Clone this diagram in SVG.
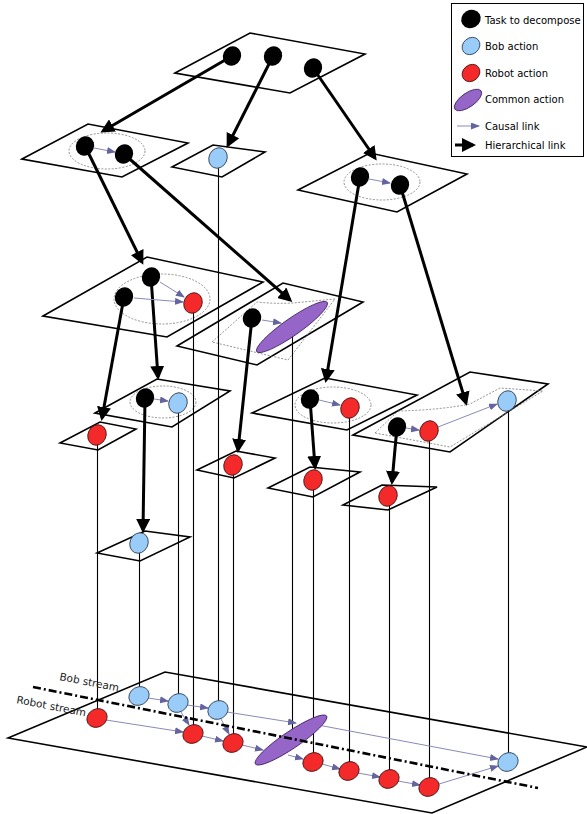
<svg xmlns="http://www.w3.org/2000/svg" width="587" height="814" viewBox="0 0 587 814">
<defs>
<marker id="ha" markerUnits="userSpaceOnUse" markerWidth="16" markerHeight="14" refX="11" refY="7" orient="auto"><path d="M0,0 L14,7 L0,14 z" fill="#000"/></marker>
<marker id="ca" markerUnits="userSpaceOnUse" markerWidth="11" markerHeight="8" refX="8" refY="3.5" orient="auto"><path d="M0,0 L9,3.5 L0,7 z" fill="#6464a0"/></marker>
<style>
.pl{fill:none;stroke:#000;stroke-width:1.6;stroke-linejoin:miter}
.dt{fill:none;stroke:#777;stroke-width:0.8;stroke-dasharray:2 1.5}
.h{stroke:#000;stroke-width:3;fill:none;marker-end:url(#ha)}
.c{stroke:#8a8ab8;stroke-width:1;fill:none;marker-end:url(#ca)}
.v{stroke:#000;stroke-width:1.1;fill:none}
.tk{fill:#000}
.bob{fill:#99ccf8;stroke:#2a3a50;stroke-width:0.8}
.rob{fill:#f42a2a;stroke:#401010;stroke-width:0.8}
.com{fill:#9565c8;stroke:#402060;stroke-width:0.8}
.lg{font-family:"DejaVu Sans",sans-serif;font-size:10px;fill:#000}
.st{font-family:"DejaVu Sans",sans-serif;font-size:10.5px;fill:#222}
</style>
</defs>
<rect width="587" height="814" fill="#fff"/>

<g id="planes">
<polygon class="pl" points="175,73 250,33 365,54 290,93"/>
<polygon class="pl" points="22,159 88,124 188,143 122,177"/>
<polygon class="pl" points="172,167 213,145 265,152 222,177"/>
<polygon class="pl" points="298,190 370,153 467,174 397,212"/>
<polygon class="pl" points="43,316 147,257 263,282 167,337"/>
<polygon class="pl" points="177,346 283,283 363,302 257,365"/>
<polygon class="pl" points="252,413 325,378 417,395 347,430"/>
<polygon class="pl" points="353,435 470,372 548,384 450,452"/>
<polygon class="pl" points="95,413 157,379 230,391 172,427"/>
<polygon class="pl" points="60,443 100,422 136,429 98,450"/>
<polygon class="pl" points="197,470 236,451 275,458 234,478"/>
<polygon class="pl" points="97,553 145,531 190,537 140,561"/>
<polygon class="pl" points="268,488 310,467 360,472 313,497"/>
<polygon class="pl" points="343,505 382,485 437,487 388,510"/>
<polygon class="pl" points="8,738 165,672 587,747 432,813"/>
<ellipse class="dt" cx="107" cy="151" rx="38" ry="18"/>
<ellipse class="dt" cx="382" cy="182" rx="38" ry="18"/>
<ellipse class="dt" cx="162" cy="299" rx="48" ry="25"/>
<ellipse class="dt" cx="163" cy="402" rx="33" ry="16"/>
<ellipse class="dt" cx="333" cy="405" rx="38" ry="18"/>
<path class="dt" d="M212,342 L257,302 Q275,304 293,303 L335,299 L288,360 Z"/>
<path class="dt" d="M375,433 L398,411 Q440,410 470,404 L500,388 L543,391 L450,447 Z"/>
</g>

<g id="connectors">
<line class="v" x1="97.5" y1="435" x2="97.5" y2="718"/>
<line class="v" x1="139.5" y1="543" x2="139.5" y2="696"/>
<line class="v" x1="178.5" y1="403" x2="178.5" y2="703"/>
<line class="v" x1="193.5" y1="303" x2="193.5" y2="734"/>
<line class="v" x1="218.5" y1="158" x2="218.5" y2="710"/>
<line class="v" x1="233.5" y1="465" x2="233.5" y2="743"/>
<line class="v" x1="292.5" y1="327" x2="292.5" y2="740"/>
<line class="v" x1="313.5" y1="480" x2="313.5" y2="762"/>
<line class="v" x1="349.5" y1="408" x2="349.5" y2="771"/>
<line class="v" x1="389.5" y1="496" x2="389.5" y2="779"/>
<line class="v" x1="429.5" y1="431" x2="429.5" y2="787"/>
<line class="v" x1="508.5" y1="401" x2="508.5" y2="762"/>

<line class="h" x1="232" y1="56" x2="103" y2="131"/>
<line class="h" x1="273" y1="56" x2="228" y2="145"/>
<line class="h" x1="313" y1="68" x2="375" y2="158"/>
<line class="h" x1="85" y1="146" x2="142" y2="262"/>
<line class="h" x1="124" y1="154" x2="290" y2="300"/>
<line class="h" x1="360" y1="177" x2="326" y2="380"/>
<line class="h" x1="400" y1="185" x2="466" y2="403"/>
<line class="h" x1="151" y1="277" x2="158" y2="377"/>
<line class="h" x1="124" y1="297" x2="102" y2="418"/>
<line class="h" x1="252" y1="318" x2="238" y2="450"/>
<line class="h" x1="145" y1="398" x2="143" y2="530"/>
<line class="h" x1="310" y1="399" x2="315" y2="467"/>
<line class="h" x1="397" y1="427" x2="392" y2="482"/>

<line class="c" x1="94" y1="148" x2="115" y2="152"/>
<line class="c" x1="369" y1="179" x2="390" y2="183"/>
<line class="c" x1="160" y1="282" x2="184" y2="297"/>
<line class="c" x1="134" y1="298" x2="183" y2="302"/>
<line class="c" x1="262" y1="320" x2="281" y2="323"/>
<line class="c" x1="154" y1="399" x2="168" y2="401"/>
<line class="c" x1="319" y1="400" x2="340" y2="405"/>
<line class="c" x1="406" y1="428" x2="419" y2="430"/>
<line class="c" x1="438" y1="427" x2="497" y2="404"/>

<line class="c" x1="148" y1="698" x2="168" y2="701"/>
<line class="c" x1="187" y1="705" x2="208" y2="708"/>
<line class="c" x1="181" y1="712" x2="189" y2="725"/>
<line class="c" x1="221" y1="719" x2="229" y2="734"/>
<line class="c" x1="106" y1="720" x2="183" y2="732"/>
<line class="c" x1="202" y1="736" x2="223" y2="741"/>
<line class="c" x1="242" y1="745" x2="263" y2="750"/>
<line class="c" x1="227" y1="712" x2="296" y2="723"/>
<line class="c" x1="288" y1="755" x2="303" y2="759"/>
<line class="c" x1="318" y1="725" x2="498" y2="759"/>
<line class="c" x1="322" y1="764" x2="340" y2="769"/>
<line class="c" x1="358" y1="773" x2="380" y2="777"/>
<line class="c" x1="398" y1="781" x2="420" y2="785"/>
<line class="c" x1="439" y1="784" x2="498" y2="766"/>
</g>

<g id="n-top">
<ellipse class="tk" cx="232" cy="56" rx="9" ry="10" transform="rotate(25 232 56)"/>
<ellipse class="tk" cx="273" cy="56" rx="9" ry="10" transform="rotate(25 273 56)"/>
<ellipse class="tk" cx="313" cy="68" rx="9" ry="10" transform="rotate(25 313 68)"/>
</g>
<g id="n-l2">
<ellipse class="tk" cx="85" cy="146" rx="9" ry="10" transform="rotate(25 85 146)"/>
<ellipse class="tk" cx="124" cy="154" rx="9" ry="10" transform="rotate(25 124 154)"/>
<ellipse class="bob" cx="218" cy="158" rx="9" ry="10.5" transform="rotate(25 218 158)"/>
<ellipse class="tk" cx="360" cy="177" rx="9" ry="10" transform="rotate(25 360 177)"/>
<ellipse class="tk" cx="400" cy="185" rx="9" ry="10" transform="rotate(25 400 185)"/>
</g>
<g id="n-l3">
<ellipse class="tk" cx="151" cy="277" rx="9" ry="10" transform="rotate(25 151 277)"/>
<ellipse class="tk" cx="124" cy="297" rx="9" ry="10" transform="rotate(25 124 297)"/>
<ellipse class="rob" cx="193" cy="303" rx="9" ry="10.5" transform="rotate(25 193 303)"/>
<ellipse class="tk" cx="252" cy="318" rx="9" ry="10" transform="rotate(25 252 318)"/>
<ellipse class="com" cx="292" cy="327" rx="43" ry="8.5" transform="rotate(-35 292 327)"/>
<ellipse class="tk" cx="310" cy="399" rx="9" ry="10" transform="rotate(25 310 399)"/>
<ellipse class="rob" cx="350" cy="408" rx="9" ry="10.5" transform="rotate(25 350 408)"/>
<ellipse class="tk" cx="397" cy="427" rx="9" ry="10" transform="rotate(25 397 427)"/>
<ellipse class="rob" cx="429" cy="431" rx="9" ry="10.5" transform="rotate(25 429 431)"/>
<ellipse class="bob" cx="507" cy="401" rx="9" ry="10.5" transform="rotate(25 507 401)"/>
</g>
<g id="n-l4">
<ellipse class="tk" cx="145" cy="398" rx="9" ry="10" transform="rotate(25 145 398)"/>
<ellipse class="bob" cx="178" cy="403" rx="9" ry="10.5" transform="rotate(25 178 403)"/>
<ellipse class="rob" cx="97" cy="435" rx="9" ry="10.5" transform="rotate(25 97 435)"/>
<ellipse class="rob" cx="233" cy="465" rx="9" ry="10.5" transform="rotate(25 233 465)"/>
<ellipse class="rob" cx="313" cy="480" rx="9" ry="10.5" transform="rotate(25 313 480)"/>
<ellipse class="rob" cx="388" cy="496" rx="9" ry="10.5" transform="rotate(25 388 496)"/>
<ellipse class="bob" cx="139" cy="543" rx="9" ry="10.5" transform="rotate(25 139 543)"/>
</g>
<g id="n-stream">
<ellipse class="bob" cx="139" cy="696" rx="9" ry="10.5" transform="rotate(60 139 696)"/>
<ellipse class="bob" cx="178" cy="703" rx="9" ry="10.5" transform="rotate(60 178 703)"/>
<ellipse class="bob" cx="218" cy="710" rx="9" ry="10.5" transform="rotate(60 218 710)"/>
<ellipse class="rob" cx="97" cy="718" rx="9" ry="10.5" transform="rotate(60 97 718)"/>
<ellipse class="rob" cx="193" cy="734" rx="9" ry="10.5" transform="rotate(60 193 734)"/>
<ellipse class="rob" cx="233" cy="743" rx="9" ry="10.5" transform="rotate(60 233 743)"/>
<ellipse class="com" cx="291" cy="740" rx="43" ry="8.5" transform="rotate(-34 291 740)"/>
<ellipse class="rob" cx="313" cy="762" rx="9" ry="10.5" transform="rotate(60 313 762)"/>
<ellipse class="rob" cx="349" cy="771" rx="9" ry="10.5" transform="rotate(60 349 771)"/>
<ellipse class="rob" cx="389" cy="779" rx="9" ry="10.5" transform="rotate(60 389 779)"/>
<ellipse class="rob" cx="429" cy="787" rx="9" ry="10.5" transform="rotate(60 429 787)"/>
<ellipse class="bob" cx="508" cy="762" rx="9" ry="10.5" transform="rotate(60 508 762)"/>
<line x1="33" y1="687" x2="538" y2="788" stroke="#000" stroke-width="2.6" stroke-dasharray="8 3 2 3"/>
<text class="st" transform="translate(59,680) rotate(11)">Bob stream</text>
<text class="st" transform="translate(16,703) rotate(11)">Robot stream</text>
</g>

<g id="legend">
<rect x="451.5" y="3.5" width="132" height="153" fill="#fff" stroke="#000" stroke-width="1"/>
<ellipse class="tk" cx="471" cy="19" rx="10" ry="9" transform="rotate(-30 471 19)"/>
<text class="lg" x="485" y="24">Task to decompose</text>
<ellipse class="bob" cx="471" cy="46" rx="9.5" ry="8" transform="rotate(-40 471 46)"/>
<text class="lg" x="485" y="50">Bob action</text>
<ellipse class="rob" cx="471" cy="73" rx="9.5" ry="8" transform="rotate(-40 471 73)"/>
<text class="lg" x="485" y="77">Robot action</text>
<ellipse class="com" cx="468" cy="100" rx="16" ry="7" transform="rotate(-35 468 100)"/>
<text class="lg" x="485" y="103">Common action</text>
<line class="c" x1="457" y1="126" x2="479" y2="126"/>
<text class="lg" x="485" y="130">Causal link</text>
<line class="h" x1="455" y1="145" x2="473" y2="145"/>
<text class="lg" x="485" y="149">Hierarchical link</text>
</g>
</svg>
